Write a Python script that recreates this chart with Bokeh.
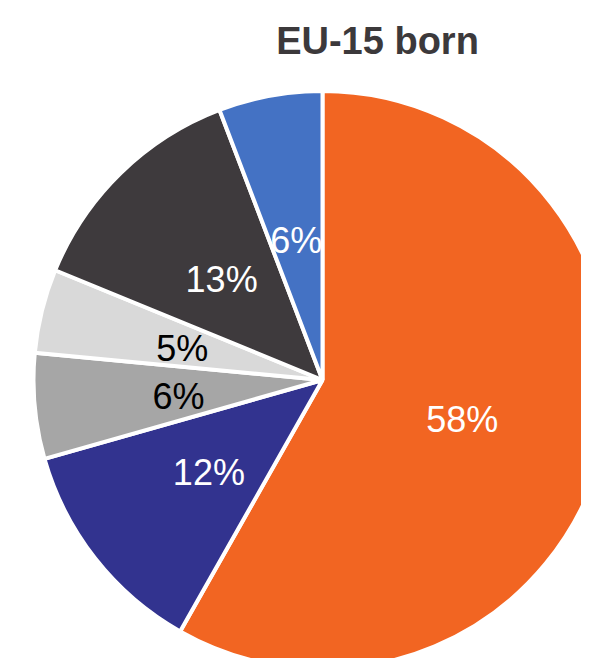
import math
from bokeh.plotting import figure
from bokeh.models import ColumnDataSource, Label, Range1d
from bokeh.core.properties import value
from bokeh.embed import file_html
from bokeh.resources import INLINE

# Data (clockwise from 12 o'clock); shares
categories = ["A", "B", "C", "D", "E", "F"]
shares = [58.2, 12.4, 5.9, 4.7, 13.0, 5.8]
labels = ["58%", "12%", "6%", "5%", "13%", "6%"]
colors = ["#F26522", "#32338F", "#A6A6A6", "#D9D9D9", "#3E3A3D", "#4472C4"]
label_colors = ["white", "white", "black", "black", "white", "white"]
title_text = "EU-15 born"

W, H = 581, 658
CX, CY, R = 322.0, 379.5, 289.0  # pie centre/radius in frame pixels

total = float(sum(shares))
starts, ends, lx, ly = [], [], [], []
cum = 0.0
for s in shares:
    a0 = math.pi / 2 - 2 * math.pi * cum / total
    cum += s
    a1 = math.pi / 2 - 2 * math.pi * cum / total
    starts.append(a0)
    ends.append(a1)
    mid = (a0 + a1) / 2
    lx.append(0.5 * math.cos(mid))
    ly.append(0.5 * math.sin(mid))

src = ColumnDataSource(dict(cat=categories, start=starts, end=ends, color=colors,
                            lx=lx, ly=ly, label=labels, lcolor=label_colors))

p = figure(width=W, height=H, output_backend="svg", toolbar_location=None,
           x_axis_location=None, y_axis_location=None, min_border=0,
           x_range=Range1d(-CX / R, (W - CX) / R),
           y_range=Range1d(-(H - CY) / R, CY / R))
p.grid.visible = False
p.outline_line_color = None
p.background_fill_color = "white"
p.border_fill_color = "white"

p.wedge(x=0, y=0, radius=1.0, start_angle="start", end_angle="end",
        direction="clock", fill_color="color", line_color="white",
        line_width=4, source=src)

p.text(x="lx", y="ly", text="label", text_color="lcolor", source=src,
       text_font=value("Liberation Sans"), text_font_size="36px",
       text_align="center", text_baseline="middle", y_offset=3)

p.add_layout(Label(x=(377 - CX) / R, y=(CY - 40) / R, text=title_text,
                   text_font="Liberation Sans", text_font_style="bold",
                   text_font_size="38px", text_color="#3C393B",
                   text_align="center", text_baseline="alphabetic"))

open("out.html", "w").write(file_html(p, INLINE))
